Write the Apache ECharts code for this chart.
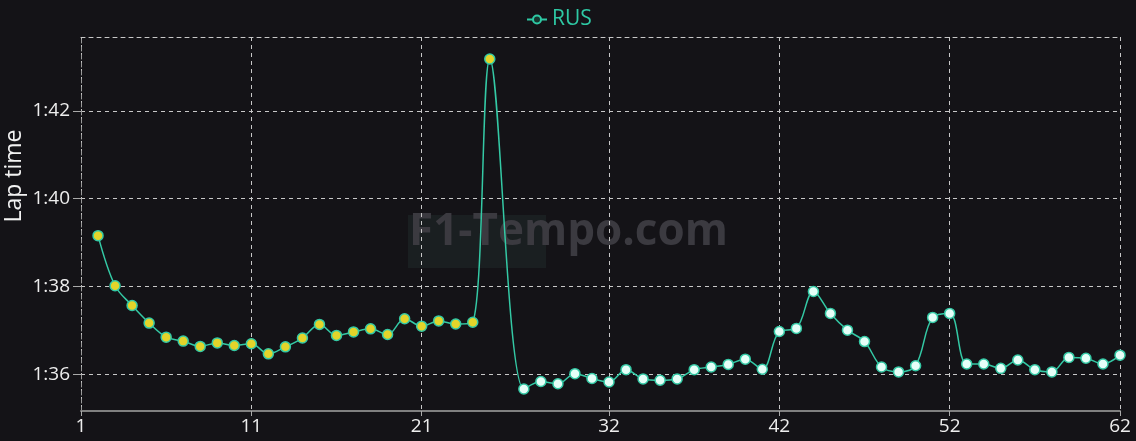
<!DOCTYPE html>
<html><head><meta charset="utf-8">
<script src="https://cdn.jsdelivr.net/npm/echarts@6/dist/echarts.min.js"></script>
<style>html,body{margin:0;padding:0;background:#141317;}#c{width:1136px;height:441px;}</style>
</head><body><div id="c"></div>
<script>
const laps = [1,2,3,4,5,6,7,8,9,10,11,12,13,14,15,16,17,18,19,20,21,22,23,24,25,26,27,28,29,30,31,32,33,34,35,36,37,38,39,40,41,42,43,44,45,46,47,48,49,50,51,52,53,54,55,56,57,58,59,60,61,62];
const lapTimes = [null,99.16,98.02,97.57,97.17,96.85,96.76,96.64,96.72,96.66,96.70,96.47,96.63,96.83,97.14,96.89,96.97,97.04,96.91,97.27,97.10,97.22,97.15,97.19,103.18,null,95.67,95.84,95.79,96.02,95.91,95.83,96.11,95.90,95.87,95.90,96.11,96.17,96.23,96.35,96.12,96.98,97.05,97.89,97.39,97.01,96.75,96.17,96.06,96.20,97.30,97.39,96.24,96.24,96.14,96.33,96.11,96.06,96.39,96.37,96.24,96.44];
const stint = [0,1,1,1,1,1,1,1,1,1,1,1,1,1,1,1,1,1,1,1,1,1,1,1,1,0,2,2,2,2,2,2,2,2,2,2,2,2,2,2,2,2,2,2,2,2,2,2,2,2,2,2,2,2,2,2,2,2,2,2,2,2];
const xTickLaps = [1,11,21,32,42,52,62];
const yTicks = [96,98,100,102];
const driver = 'RUS';

const stintFill = {1:'#e3d42a', 2:'#e6fff8'};
const seriesData = lapTimes.map((v,i)=>({value:v, itemStyle:{color: stintFill[stint[i]] || '#fff'}}));
function fmt(v){const m=Math.floor(v/60);const s=Math.round(v-m*60);return m+':'+(s<10?'0':'')+s;}
const showIdx = (idx)=> xTickLaps.indexOf(laps[idx])>=0;

const chart = echarts.init(document.getElementById('c'));
chart.setOption({
  backgroundColor:'#141317',
  animation:false,
  textStyle:{fontFamily:'Open Sans'},
  legend:{top:4,left:521,itemWidth:20,itemHeight:10,itemGap:4,
    textStyle:{color:'#2ec9a4',fontSize:21,fontFamily:'Open Sans'},
    itemStyle:{color:'#16362f',borderColor:'#2ec9a4',borderWidth:2},
    lineStyle:{color:'#2ec9a4',width:2},
    data:[driver]},
  graphic:[
    {type:'rect',left:408,top:215,shape:{width:138,height:53},style:{fill:'#1a1f21'},z:0,silent:true},
    {type:'text',left:409,top:210,style:{text:'F1-Tempo.com',fill:'#3b3a40',font:'bold 44px "Open Sans"'},z:0,silent:true}
  ],
  grid:{left:81,right:16,top:37,bottom:30,outerBoundsMode:'none',containLabel:false},
  xAxis:[{
    type:'category',data:laps,boundaryGap:false,
    axisLine:{lineStyle:{color:'#808080',width:2}},
    axisTick:{show:true,interval:(i)=>showIdx(i),length:5,lineStyle:{color:'#aaa'}},
    axisLabel:{interval:(i)=>showIdx(i),color:'#eee',fontSize:19,margin:6},
    splitLine:{show:true,interval:(i)=>showIdx(i),lineStyle:{color:'#c8c8c8',type:[4,4],width:1}}
  },{
    type:'category',data:laps,position:'top',boundaryGap:false,
    axisLine:{show:true,lineStyle:{color:'#c8c8c8',type:[4,4],width:1}},
    axisTick:{show:false},axisLabel:{show:false},splitLine:{show:false}
  }],
  yAxis:{
    type:'value',min:95.17,max:103.68,
    name:'Lap time',nameLocation:'middle',nameGap:55,nameRotate:90,nameMoveOverlap:false,
    nameTextStyle:{color:'#f2f2f2',fontSize:23,fontFamily:'Open Sans',padding:[0,0,0,96]},
    axisLine:{show:true,lineStyle:{color:'#999',type:[4,4],width:1}},
    axisTick:{show:true,length:8,customValues:yTicks,lineStyle:{color:'#aaa'}},
    axisLabel:{customValues:yTicks,formatter:(v)=>fmt(v),color:'#eee',fontSize:19,margin:11},
    splitLine:{show:true,lineStyle:{color:'#c8c8c8',type:[4,4],width:1}}
  },
  series:[{
    name:driver,type:'line',data:seriesData,connectNulls:true,smooth:0.35,
    symbol:'circle',symbolSize:10,showSymbol:true,
    lineStyle:{color:'#34c9a5',width:1.5},
    itemStyle:{color:'#e3d42a',borderColor:'#34c9a5',borderWidth:1.5},
    z:3
  }]
});
</script></body></html>
